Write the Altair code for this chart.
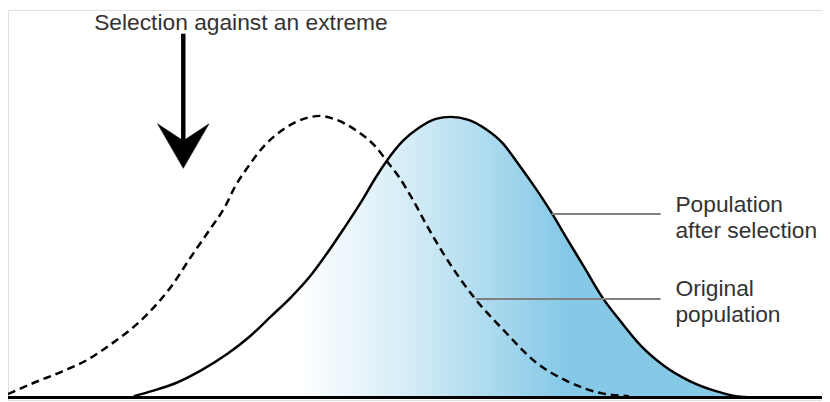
import altair as alt
import pandas as pd

# Original population (dashed curve): trait value vs. frequency
orig_x = [8, 33, 63, 87, 110, 147, 173, 193, 213, 227, 237, 250, 267, 287, 310, 323,
          337, 360, 380, 390, 403, 417, 430, 447, 480, 510, 540, 573, 607, 635]
orig_y = [3, 14, 26, 37, 52, 82, 112, 142, 171, 192, 212, 232, 254, 271, 282, 284,
          281, 269, 252, 239, 222, 199, 175, 146, 99, 66, 36, 16, 4, 1]

# Population after selection (solid, filled curve)
after_x = [135, 153, 177, 203, 230, 253, 273, 293, 313, 330, 347, 367, 377, 390, 407,
           423, 440, 455, 473, 490, 507, 523, 540, 557, 573, 590, 608, 627, 647, 670,
           697, 723, 743, 755]
after_y = [1, 6, 14, 27, 44, 62, 81, 100, 122, 145, 170, 201, 218, 238, 259,
           272, 281, 283, 280, 271, 257, 236, 212, 186, 159, 131, 101, 76, 52, 32,
           16, 6, 1, 0]

# Annotations
labels = ["Selection against an extreme", "Population", "after selection",
          "Original", "population"]
label_x = [95, 682, 682, 682, 682]
label_y = [371, 187, 161, 102, 76]

leader_x1 = [557, 480]
leader_x2 = [667, 667]
leader_y = [185, 99]

arrow_x = [185]
arrow_top = [367]
arrow_neck = [259]
arrow_head_y = [253.5]

XS = alt.Scale(domain=[8, 830], nice=False, zero=False)
YS = alt.Scale(domain=[-3, 391], nice=False, zero=False)

orig = pd.DataFrame({"x": orig_x, "y": orig_y})
after = pd.DataFrame({"x": after_x, "y": after_y})
texts = pd.DataFrame({"label": labels, "x": label_x, "y": label_y})
leaders = pd.DataFrame({"x": leader_x1, "x2": leader_x2, "y": leader_y})
arrow = pd.DataFrame({"x": arrow_x, "y": arrow_top, "y2": arrow_neck, "hy": arrow_head_y})
base = pd.DataFrame({"x": [8], "x2": [830], "y": [-0.5]})

grad = alt.Gradient(
    gradient="linear",
    stops=[
        alt.GradientStop(color="#ffffff", offset=0),
        alt.GradientStop(color="#ffffff", offset=0.27),
        alt.GradientStop(color="#d4ecf6", offset=0.45),
        alt.GradientStop(color="#86c9e7", offset=0.70),
        alt.GradientStop(color="#86c9e7", offset=1),
    ],
    x1=0, x2=1, y1=0, y2=0,
)

area = alt.Chart(after).mark_area(color=grad, interpolate="monotone").encode(
    x=alt.X("x:Q", scale=XS, axis=None),
    y=alt.Y("y:Q", scale=YS, axis=None),
    y2=alt.datum(0),
)
after_line = alt.Chart(after).mark_line(color="black", strokeWidth=2.5, interpolate="monotone").encode(
    x=alt.X("x:Q", scale=XS, axis=None),
    y=alt.Y("y:Q", scale=YS, axis=None),
)
orig_line = alt.Chart(orig).mark_line(color="black", strokeWidth=2.5, strokeDash=[8, 5],
                                      interpolate="monotone").encode(
    x=alt.X("x:Q", scale=XS, axis=None),
    y=alt.Y("y:Q", scale=YS, axis=None),
)
baseline = alt.Chart(base).mark_rule(color="black", strokeWidth=3).encode(
    x=alt.X("x:Q", scale=XS, axis=None), x2="x2:Q",
    y=alt.Y("y:Q", scale=YS, axis=None),
)
leader = alt.Chart(leaders).mark_rule(color="#808080", strokeWidth=2).encode(
    x=alt.X("x:Q", scale=XS, axis=None), x2="x2:Q",
    y=alt.Y("y:Q", scale=YS, axis=None),
)
text = alt.Chart(texts).mark_text(align="left", baseline="alphabetic", font="Liberation Sans",
                                  fontSize=23, color="#333333").encode(
    x=alt.X("x:Q", scale=XS, axis=None),
    y=alt.Y("y:Q", scale=YS, axis=None),
    text="label:N",
)
shaft = alt.Chart(arrow).mark_rule(color="black", strokeWidth=4.5).encode(
    x=alt.X("x:Q", scale=XS, axis=None),
    y=alt.Y("y:Q", scale=YS, axis=None), y2="y2:Q",
)
head = alt.Chart(arrow).mark_point(
    shape="M -1 -0.865 L 0 -0.21 L 1 -0.865 L 0 0.865 Z",
    filled=True, fill="black", stroke="black", strokeWidth=0.5, opacity=1, size=2704,
).encode(
    x=alt.X("x:Q", scale=XS, axis=None),
    y=alt.Y("hy:Q", scale=YS, axis=None),
)

chart = alt.layer(area, orig_line, after_line, baseline, leader, text, shaft, head).properties(
    width=822, height=394,
    autosize=alt.AutoSizeParams(type="none"),
    padding=0,
).configure_view(stroke="transparent", strokeWidth=0).configure(background="white")

chart.save("out.html", embed_options={"renderer": "svg", "actions": False})
